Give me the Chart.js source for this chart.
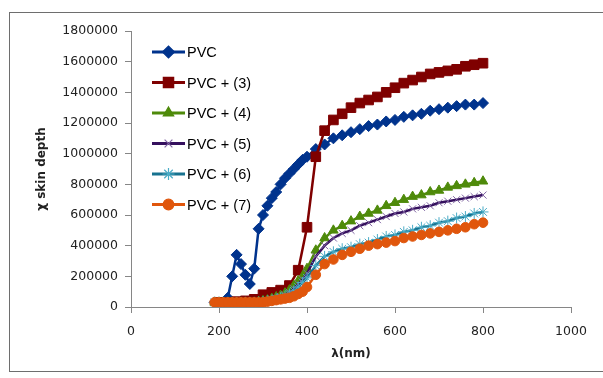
<!DOCTYPE html>
<html>
<head>
<meta charset="utf-8">
<script src="https://cdn.jsdelivr.net/npm/chart.js@4/dist/chart.umd.min.js"></script>
<style>
  html, body { margin: 0; padding: 0; background: #fff; }
  #wrap { width: 603px; height: 378px; }
</style>
</head>
<body>
<div id="wrap"><canvas id="canvas" width="603" height="378"></canvas></div>
<script>
// wavelength grids (nm)
var wl = [190,200,210,220,230,240,250,260,270,280,290,300,310,320,330,340,350,360,370,380,390,400,
          420,440,460,480,500,520,540,560,580,600,620,640,660,680,700,720,740,760,780,800];
var wlRed = [200,220,240,260,280,300,320,340,360,380,400,420,440,460,480,500,520,540,560,580,600,
             620,640,660,680,700,720,740,760,780,800];

var seriesNames = ['PVC', 'PVC + (3)', 'PVC + (4)', 'PVC + (5)', 'PVC + (6)', 'PVC + (7)'];

var pvc = [30000,30000,30000,60000,200000,340000,280000,210000,150000,250000,510000,600000,660000,710000,
           750000,800000,840000,870000,900000,930000,960000,980000,
           1030000,1060000,1100000,1120000,1140000,1160000,1180000,1190000,1210000,1220000,1240000,1250000,
           1260000,1280000,1290000,1300000,1310000,1320000,1320000,1330000];
var pvc3 = [30000,30000,35000,40000,50000,80000,95000,110000,140000,240000,520000,980000,1150000,1220000,
            1260000,1300000,1330000,1350000,1370000,1400000,1430000,1460000,1480000,1500000,1520000,1530000,
            1540000,1550000,1570000,1580000,1590000];
var pvc4 = [30000,30000,30000,30000,30000,30000,30000,30000,30000,30000,35000,40000,45000,55000,65000,75000,
            90000,110000,140000,170000,200000,250000,
            370000,450000,500000,530000,560000,590000,610000,630000,660000,680000,700000,720000,730000,750000,
            760000,780000,790000,800000,810000,820000];
var pvc5 = [30000,30000,30000,30000,30000,30000,30000,30000,30000,30000,33000,37000,42000,50000,58000,68000,
            80000,95000,120000,150000,180000,220000,
            330000,400000,450000,480000,500000,530000,550000,570000,590000,610000,620000,640000,650000,660000,
            680000,690000,700000,710000,720000,730000];
var pvc6 = [30000,30000,30000,30000,30000,30000,30000,30000,30000,30000,32000,35000,40000,45000,52000,60000,
            70000,85000,105000,130000,160000,190000,
            270000,330000,360000,380000,390000,410000,420000,440000,460000,470000,490000,500000,520000,530000,
            550000,560000,580000,590000,610000,620000];
var pvc7 = [30000,30000,30000,30000,30000,30000,30000,30000,30000,30000,30000,30000,35000,40000,45000,50000,
            55000,60000,70000,85000,100000,130000,
            210000,280000,310000,340000,360000,380000,400000,410000,420000,430000,450000,460000,470000,480000,
            490000,500000,510000,520000,540000,550000];

var xTicks = [0, 200, 400, 600, 800, 1000];
var yTicks = [0, 200000, 400000, 600000, 800000, 1000000, 1200000, 1400000, 1600000, 1800000];

function pts(xs, ys) {
  return xs.map(function (x, i) { return { x: x, y: ys[i] }; });
}

var styles = [
  { line: '#00338D', fill: '#00338D', shape: 'rectRot', r: 5.5 },
  { line: '#7F0000', fill: '#7F0000', shape: 'rect', r: 6.8 },
  { line: '#4E8A0A', fill: '#4E8A0A', shape: 'triangle', r: 5.5 },
  { line: '#35105E', fill: '#8064A2', shape: 'crossRot', r: 5 },
  { line: '#17728F', fill: '#4BACC6', shape: 'star', r: 5.5 },
  { line: '#E0560C', fill: '#E0560C', shape: 'circle', r: 4.8 }
];
var allData = [pts(wl, pvc), pts(wlRed, pvc3), pts(wl, pvc4), pts(wl, pvc5), pts(wl, pvc6), pts(wl, pvc7)];

var datasets = seriesNames.map(function (name, i) {
  var s = styles[i];
  return {
    label: name,
    data: allData[i],
    showLine: true,
    borderColor: s.line,
    backgroundColor: s.fill,
    borderWidth: 2.5,
    pointStyle: s.shape,
    pointRadius: s.r,
    pointBorderColor: s.fill,
    pointBackgroundColor: s.fill,
    pointBorderWidth: 1,
    order: 5 - i
  };
});

var frame = {
  id: 'frame',
  beforeDraw: function (chart) {
    var c = chart.ctx;
    c.save();
    c.fillStyle = '#fff';
    c.fillRect(0, 0, chart.width, chart.height);
    c.strokeStyle = '#6e6e6e';
    c.lineWidth = 1;
    c.strokeRect(9.5, 12.5, 640, 359);
    c.restore();
  }
};

var insideLegend = {
  id: 'insideLegend',
  afterDatasetsDraw: function (chart) {
    var c = chart.ctx;
    c.save();
    chart.data.datasets.forEach(function (ds, i) {
      var y = 52 + i * 30.5;
      c.strokeStyle = ds.borderColor;
      c.lineWidth = 3;
      c.beginPath();
      c.moveTo(152, y);
      c.lineTo(185, y);
      c.stroke();
      c.fillStyle = ds.pointBackgroundColor;
      c.strokeStyle = ds.pointBorderColor;
      c.lineWidth = 1.2;
      Chart.helpers.drawPoint(c, { pointStyle: ds.pointStyle, radius: ds.pointRadius + 0.5, rotation: 0, borderWidth: 1.2 }, 168.5, y);
      c.fillStyle = '#000';
      c.font = '14.5px "Liberation Sans", Arial, sans-serif';
      c.textBaseline = 'middle';
      c.textAlign = 'left';
      c.fillText(ds.label, 187, y + 1);
    });
    c.restore();
  }
};

const ctx = document.getElementById('canvas');

new Chart(ctx, {
  type: 'scatter',
  data: { datasets: datasets },
  plugins: [frame, insideLegend],
  options: {
    responsive: false,
    animation: false,
    layout: { padding: { left: 31, right: 32, top: 31, bottom: 17 } },
    plugins: {
      legend: { display: false },
      tooltip: { enabled: false }
    },
    scales: {
      x: {
        type: 'linear',
        min: 0,
        max: 1000,
        afterBuildTicks: function (axis) { axis.ticks = xTicks.map(function (v) { return { value: v }; }); },
        afterFit: function (axis) { axis.height = 54; },
        border: { color: '#868686', width: 1 },
        grid: { drawOnChartArea: false, drawTicks: true, tickLength: 6, color: '#868686' },
        ticks: {
          padding: 11,
          color: '#222',
          font: { family: '"DejaVu Sans", sans-serif', size: 12.5 },
          callback: function (v) { return String(v); }
        },
        title: {
          display: true,
          text: 'λ(nm)',
          color: '#222',
          padding: { top: 6, bottom: 0 },
          font: { family: '"DejaVu Sans", sans-serif', size: 12, weight: 'bold' }
        }
      },
      y: {
        type: 'linear',
        min: 0,
        max: 1800000,
        afterBuildTicks: function (axis) { axis.ticks = yTicks.map(function (v) { return { value: v }; }); },
        afterFit: function (axis) { axis.width = 100; },
        border: { color: '#868686', width: 1 },
        grid: { drawOnChartArea: false, drawTicks: true, tickLength: 6, color: '#868686' },
        ticks: {
          padding: 7,
          color: '#222',
          font: { family: '"DejaVu Sans", sans-serif', size: 12.5 },
          callback: function (v) { return String(v); }
        },
        title: {
          display: true,
          text: 'χ skin depth',
          color: '#222',
          padding: { top: 4, bottom: 4 },
          font: { family: '"DejaVu Sans", sans-serif', size: 12, weight: 'bold' }
        }
      }
    }
  }
});
</script>
</body>
</html>
